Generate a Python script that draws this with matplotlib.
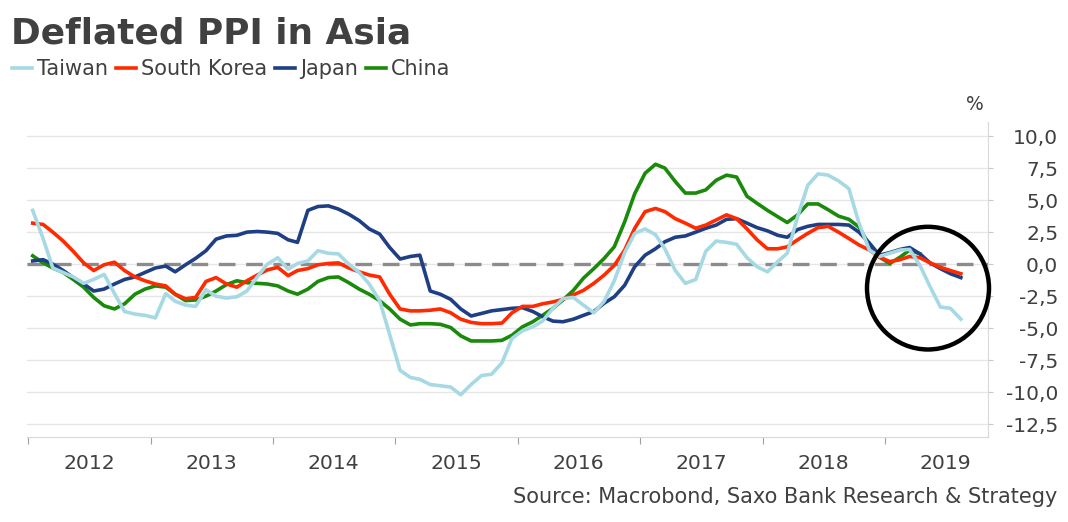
import matplotlib
matplotlib.use("Agg")
import matplotlib.pyplot as plt
import matplotlib.dates as mdates
from matplotlib.lines import Line2D
from matplotlib.patches import Ellipse
import numpy as np
import pandas as pd

months = pd.date_range("2012-01-01", periods=92, freq="MS") + pd.Timedelta(days=14)

taiwan = [4.2, 2.0, -0.3, -0.65, -1.0, -1.5, -1.2, -0.8, -2.3, -3.7, -3.9, -4.0,
          -4.2, -2.3, -2.9, -3.2, -3.3, -2.0, -2.5, -2.65, -2.55, -2.1, -1.0, 0.0,
          0.5, -0.4, 0.05, 0.25, 1.05, 0.85, 0.8, 0.0, -0.65, -1.55, -2.85, -5.5,
          -8.3, -8.85, -9.0, -9.4, -9.5, -9.6, -10.2, -9.4, -8.7, -8.6, -7.7, -5.8,
          -5.2, -4.9, -4.45, -3.45, -2.7, -2.6, -3.2, -3.8, -2.9, -1.3, 0.9, 2.4,
          2.75, 2.3, 1.2, -0.5, -1.5, -1.2, 1.0, 1.8, 1.7, 1.55, 0.5, -0.2,
          -0.6, 0.2, 0.85, 3.7, 6.15, 7.05, 6.95, 6.5, 5.9, 3.2, 1.1, 0.6,
          0.85, 1.1, 1.15, -0.1, -1.75, -3.35, -3.45, -4.3]

south_korea = [3.2, 3.1, 2.5, 1.8, 1.0, 0.1, -0.5, -0.05, 0.15, -0.5, -1.0, -1.3,
               -1.55, -1.7, -2.35, -2.7, -2.6, -1.35, -1.05, -1.55, -1.8, -1.3, -0.85, -0.45,
               -0.25, -0.9, -0.5, -0.35, -0.05, 0.05, 0.1, -0.3, -0.6, -0.85, -1.0, -2.35,
               -3.5, -3.65, -3.65, -3.6, -3.5, -3.8, -4.3, -4.55, -4.65, -4.65, -4.6, -3.8,
               -3.3, -3.3, -3.1, -2.95, -2.75, -2.4, -2.05, -1.5, -0.85, -0.1, 1.1, 2.8,
               4.1, 4.35, 4.1, 3.55, 3.2, 2.8, 3.05, 3.45, 3.85, 3.55, 2.75, 1.9,
               1.2, 1.2, 1.35, 1.9, 2.4, 2.85, 2.95, 2.5, 2.0, 1.5, 1.1, 0.55,
               0.2, 0.35, 0.6, 0.5, 0.1, -0.25, -0.5, -0.75]

japan = [0.25, 0.35, 0.0, -0.5, -1.05, -1.55, -2.1, -1.95, -1.55, -1.2, -1.0, -0.65,
         -0.3, -0.15, -0.6, -0.05, 0.45, 1.05, 1.95, 2.2, 2.25, 2.5, 2.55, 2.5,
         2.4, 1.9, 1.7, 4.2, 4.5, 4.55, 4.3, 3.9, 3.4, 2.75, 2.35, 1.3,
         0.4, 0.6, 0.7, -2.1, -2.35, -2.75, -3.5, -4.05, -3.85, -3.65, -3.55, -3.45,
         -3.4, -3.7, -4.1, -4.45, -4.5, -4.3, -4.0, -3.7, -3.05, -2.55, -1.65, -0.2,
         0.7, 1.2, 1.75, 2.1, 2.2, 2.5, 2.8, 3.05, 3.5, 3.55, 3.2, 2.85,
         2.6, 2.25, 2.1, 2.7, 2.95, 3.1, 3.1, 3.1, 3.05, 2.5, 1.65, 0.7,
         0.9, 1.15, 1.3, 0.8, 0.1, -0.35, -0.75, -1.05]

china = [0.65, 0.1, -0.3, -0.65, -1.2, -1.8, -2.6, -3.25, -3.5, -3.1, -2.35, -1.95,
         -1.7, -1.8, -2.35, -2.85, -2.8, -2.5, -2.1, -1.6, -1.3, -1.45, -1.5, -1.55,
         -1.7, -2.1, -2.35, -1.95, -1.35, -1.05, -1.0, -1.45, -1.95, -2.35, -2.85, -3.5,
         -4.3, -4.75, -4.65, -4.65, -4.7, -4.95, -5.6, -6.0, -6.0, -6.0, -5.95, -5.55,
         -4.9, -4.5, -4.0, -3.45, -2.8, -2.05, -1.1, -0.35, 0.45, 1.35, 3.3, 5.5,
         7.1, 7.8, 7.5, 6.45, 5.55, 5.55, 5.8, 6.55, 6.95, 6.8, 5.3, 4.75,
         4.2, 3.7, 3.25, 3.85, 4.7, 4.7, 4.25, 3.75, 3.5, 2.9, 1.5, 0.55,
         0.05, 0.55, 1.1, 0.8]

names = ["Taiwan", "South Korea", "Japan", "China"]
colors = ["#a6d9e3", "#ff2a00", "#1f3f84", "#1a8a0a"]
yticks = np.arange(-12.5, 10.01, 2.5)

TXT = "#404040"

fig = plt.figure(figsize=(10.68, 5.22), dpi=100)
ax = fig.add_axes([27 / 1068, 85 / 522, 961 / 1068, 315 / 522])

data = [taiwan, south_korea, japan, china]
# china at the bottom, taiwan on top
for z, (vals, col) in enumerate(zip(data[::-1], colors[::-1])):
    ax.plot(months[:len(vals)], vals, color=col, lw=2.6, zorder=3 + z,
            solid_joinstyle="round")

ax.axhline(0, color="#8c8c8c", lw=2.4, dashes=(5, 3.2), zorder=2)

ax.set_xlim(pd.Timestamp("2011-12-29"), pd.Timestamp("2019-11-04"))
ax.set_ylim(-13.5, 11.1)

ax.set_yticks(yticks)
ax.set_yticklabels([f"{v:.1f}".replace(".", ",") for v in yticks])
ax.yaxis.tick_right()
ax.tick_params(axis="y", length=3.6, color="#c8c8c8", pad=47,
               labelsize=14.5, labelcolor=TXT)
for t in ax.yaxis.get_major_ticks():
    t.label2.set_horizontalalignment("right")
ax.grid(axis="y", color="#e6e6e6", lw=1, zorder=0)

ax.xaxis.set_major_locator(mdates.YearLocator())
ax.xaxis.set_major_formatter(plt.NullFormatter())
ax.xaxis.set_minor_locator(mdates.MonthLocator(bymonth=7))
ax.xaxis.set_minor_formatter(mdates.DateFormatter("%Y"))
ax.tick_params(axis="x", which="major", length=5, color="#a0a0a0")
ax.tick_params(axis="x", which="minor", length=0, pad=12,
               labelsize=14.7, labelcolor=TXT)

for s in ["left", "top"]:
    ax.spines[s].set_visible(False)
for s in ["right", "bottom"]:
    ax.spines[s].set_color("#d9d9d9")

# highlight circle round the latest readings
ctr = mdates.date2num(pd.Timestamp("2019-05-09"))
ax.add_patch(Ellipse((ctr, -1.875), width=364, height=9.58, fill=False,
                     edgecolor="black", lw=3.2, zorder=10, clip_on=False))

fig.text(11 / 1068, 1 - 34 / 522, "Deflated PPI in Asia", fontsize=25.8,
         fontweight="bold", color=TXT, va="center", ha="left")

handles = [Line2D([], [], color=c, lw=2.6) for c in colors]
fig.legend(handles, names, loc="center left", bbox_to_anchor=(12 / 1068, 1 - 69 / 522),
           ncol=4, frameon=False, fontsize=15, handlelength=0.95,
           handletextpad=0.25, columnspacing=0.38, borderpad=0, borderaxespad=0,
           labelcolor=TXT)

fig.text(975 / 1068, 1 - 105 / 522, "%", fontsize=13.5, color=TXT, ha="center", va="center")
fig.text(1057 / 1068, 1 - 497 / 522, "Source: Macrobond, Saxo Bank Research & Strategy",
         fontsize=15, color=TXT, ha="right", va="center")

fig.savefig("out.png", dpi=100)
